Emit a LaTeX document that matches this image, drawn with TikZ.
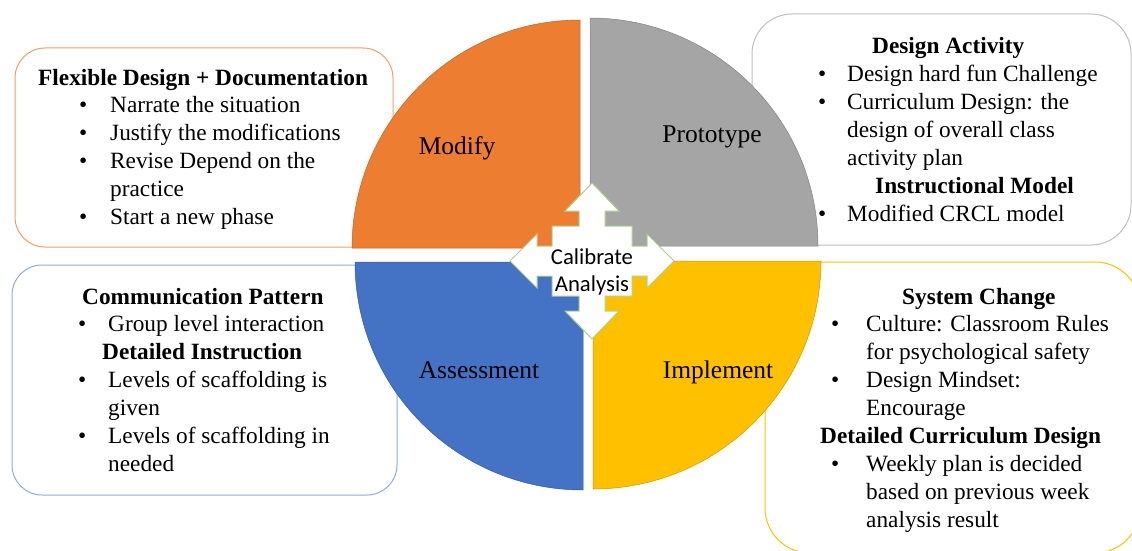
\documentclass[tikz,border=0pt]{standalone}
\usepackage{fontspec}
\setmainfont{Liberation Serif}
\newfontfamily\calibfont{Carlito}

\definecolor{modorange}{HTML}{ED7D31}
\definecolor{protgray}{HTML}{A5A5A5}
\definecolor{assblue}{HTML}{4472C4}
\definecolor{implyellow}{HTML}{FFC000}
\definecolor{calibgreen}{HTML}{A9D18E}

% heading row spanning bullet and text column, shifted by #1
\newcommand{\hd}[2]{\multicolumn{2}{@{\hspace{#1}}l@{}}{\bfseries #2}}

\begin{document}
\begin{tikzpicture}[x=1pt,y=-1pt]

\tikzset{
  % rounded frame holding the notes of one phase
  infobox/.style={draw=#1, line width=1pt, rounded corners=30pt},
  % one quarter of the disc
  quarter/.style={fill=#1, draw=#1!80!black, line width=0.5pt},
  qlabel/.style={anchor=base, inner sep=0pt, font=\fontsize{25.5}{30}\selectfont},
  notes/.style={anchor=base west, inner sep=0pt, font=\fontsize{23.3}{27.9}\selectfont},
}

\useasboundingbox (0,0) rectangle (1132,551);
\clip (0,0) rectangle (1132,551);

% frames
\draw [infobox=modorange!75] (15,48) rectangle (393,247);
\draw [infobox=black!25, rounded corners=40pt] (752,14) rectangle (1131,245);
\draw [infobox=assblue!60] (12,265) rectangle (397,495);
\draw [infobox=implyellow, rounded corners=45pt] (765,262) rectangle (1140,553);

% the four quarters
\path [quarter=modorange] (580,248) -- (352,248) arc [start angle=180, end angle=270, radius=228] -- cycle;
\path [quarter=protgray] (590,246) -- (590,18) arc [start angle=270, end angle=360, radius=228] -- cycle;
\path [quarter=assblue] (583,262) -- (355,262) arc [start angle=180, end angle=90, radius=228] -- cycle;
\path [quarter=implyellow] (593,261) -- (821,261) arc [start angle=0, end angle=90, radius=228] -- cycle;

\node [qlabel] (modlbl) at (457,154) {Modify};
\node [qlabel] (protlbl) at (712,142) {Prototype};
\node [qlabel] (asslbl) at (479,378) {Assessment};
\node [qlabel] (impllbl) at (718,378) {Implement};

% four-way arrow in the middle
\begin{scope}[shift={(592,261)}]
\draw [fill=white, draw=calibgreen, line width=1pt, line join=miter]
  (0,-78) -- (27,-50) -- (13,-50) -- (13,-35) -- (40,-35) -- (40,-15)
  -- (55,-15) -- (55,-27) -- (82,0) -- (55,27) -- (55,15) -- (40,15)
  -- (40,35) -- (13,35) -- (13,50) -- (27,50) -- (0,78) -- (-27,50)
  -- (-13,50) -- (-13,35) -- (-40,35) -- (-40,15) -- (-55,15) -- (-55,27)
  -- (-82,0) -- (-55,-27) -- (-55,-15) -- (-40,-15) -- (-40,-35) -- (-13,-35)
  -- (-13,-50) -- (-27,-50) -- cycle;
\end{scope}
\node [align=center, font=\calibfont\fontsize{22.7}{26.5}\selectfont] (calib) at (592,272) {Calibrate\\Analysis};

% notes
\node [notes] (modtxt) at (79,85) {\begin{tabular}[t]{@{}p{31pt}@{}l@{}}
  \hd{-41pt}{Flexible Design + Documentation}\\
  \textbullet & Narrate the situation\\
  \textbullet & Justify the modifications\\
  \textbullet & Revise Depend on the\\
   & practice\\
  \textbullet & Start a new phase
\end{tabular}};

\node [notes] (prottxt) at (818,54) {\begin{tabular}[t]{@{}p{29pt}@{}l@{}}
  \hd{54pt}{Design Activity}\\
  \textbullet & Design hard fun Challenge\\
  \textbullet & Curriculum Design: the\\
   & design of overall class\\
   & activity plan\\
  \hd{57pt}{Instructional Model}\\
  \textbullet & Modified CRCL model
\end{tabular}};

\node [notes] (asstxt) at (78,304) {\begin{tabular}[t]{@{}p{30pt}@{}l@{}}
  \hd{4pt}{Communication Pattern}\\
  \textbullet & Group level interaction\\
  \hd{24pt}{Detailed Instruction}\\
  \textbullet & Levels of scaffolding is\\
   & given\\
  \textbullet & Levels of scaffolding in\\
   & needed
\end{tabular}};

\node [notes] (impltxt) at (831,304) {\begin{tabular}[t]{@{}p{35pt}@{}l@{}}
  \hd{71pt}{System Change}\\
  \textbullet & Culture: Classroom Rules\\
   & for psychological safety\\
  \textbullet & Design Mindset:\\
   & Encourage\\
  \hd{-11pt}{Detailed Curriculum Design}\\
  \textbullet & Weekly plan is decided\\
   & based on previous week\\
   & analysis result
\end{tabular}};

\end{tikzpicture}
\end{document}
